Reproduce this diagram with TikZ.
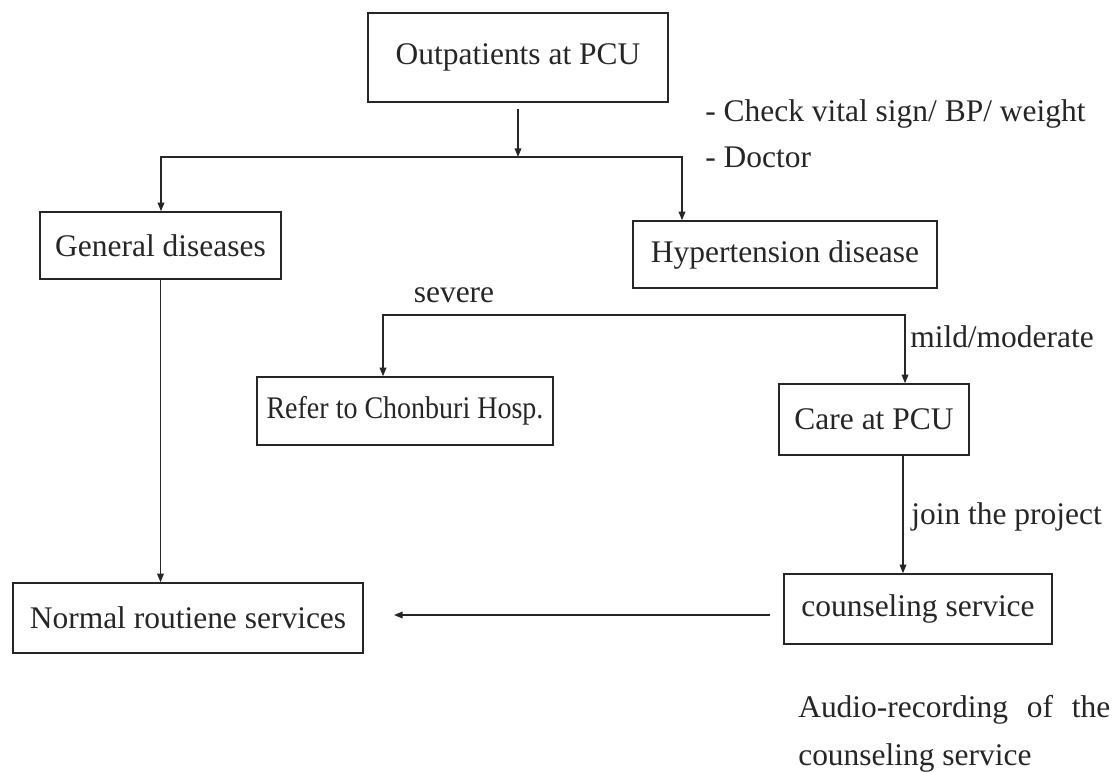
\documentclass[tikz,border=0pt]{standalone}
\usepackage{fontspec}
\setmainfont{Liberation Serif}
\usetikzlibrary{arrows.meta}
\begin{document}
\begin{tikzpicture}[x=0.75pt,y=-0.75pt,
  every node/.style={font=\fontsize{23.6}{28}\selectfont, text=black!85},
  box/.style={draw=black!85, line width=1.1pt, inner sep=0pt, anchor=center},
  arr/.style={draw=black!85, line width=1.1pt, -{Triangle[length=6.5pt,width=5pt]}},
  dbl/.style={draw=black!85, line width=1.1pt, line join=miter, {Triangle[length=6.5pt,width=5pt]}-{Triangle[length=6.5pt,width=5pt]}},
  lbl/.style={anchor=west, inner sep=0pt}]
\useasboundingbox (0,0) rectangle (1112,772);
% boxes
\node[box, minimum width=225pt, minimum height=66.75pt] (out) at (518,57.5) {Outpatients at PCU};
\node[box, minimum width=180.75pt, minimum height=50.25pt] (gen) at (160.5,245.5) {General diseases};
\node[box, minimum width=228pt, minimum height=50.25pt] (hyp) at (785,254.5) {Hypertension disease};
\node[box, minimum width=222pt, minimum height=51pt] (refer) at (405,411) {\scalebox{0.89}[1]{Refer to Chonburi Hosp.}};
\node[box, minimum width=142.5pt, minimum height=53.25pt] (care) at (874,419.5) {Care at PCU};
\node[box, minimum width=262.5pt, minimum height=52.5pt] (normal) at (188,618) {Normal routiene services};
\node[box, minimum width=201pt, minimum height=52.5pt] (couns) at (918,609) {counseling service};
% labels
\node[lbl] (check) at (705,114) {- Check vital sign/ BP/ weight};
\node[lbl] (doc) at (705,157) {- Doctor};
\node[inner sep=0pt] (sev) at (454,295) {severe};
\node[lbl] (mild) at (910,337) {mild/moderate};
\node[lbl] (join) at (911,517) {join the project};
\node[lbl] (aud1) at (798,710) {\makebox[234pt][s]{Audio-recording of the}};
\node[lbl] (aud2) at (798,758) {counseling service};
% connectors
\coordinate (j0) at (518,157);
\coordinate (bL) at (161,157);
\coordinate (bR) at (682,157);
\coordinate (cL) at (383,315);
\coordinate (cR) at (905,315);
\coordinate (cv) at (903,500);
\coordinate (a1) at (770,615);
\coordinate (a2) at (394,615);
\draw[arr] ([yshift=-4.5pt]out.south) -- (j0);
\draw[dbl] (bL |- gen.north) -- (bL) -- (bR) -- (bR |- hyp.north);
\draw[dbl] (cL |- refer.north) -- (cL) -- (cR) -- (cR |- care.north);
\draw[arr] (gen.south) -- (gen.south |- normal.north);
\draw[arr] (care.south -| cv) -- (couns.north -| cv);
\draw[arr] (a1) -- (a2);
\end{tikzpicture}
\end{document}
